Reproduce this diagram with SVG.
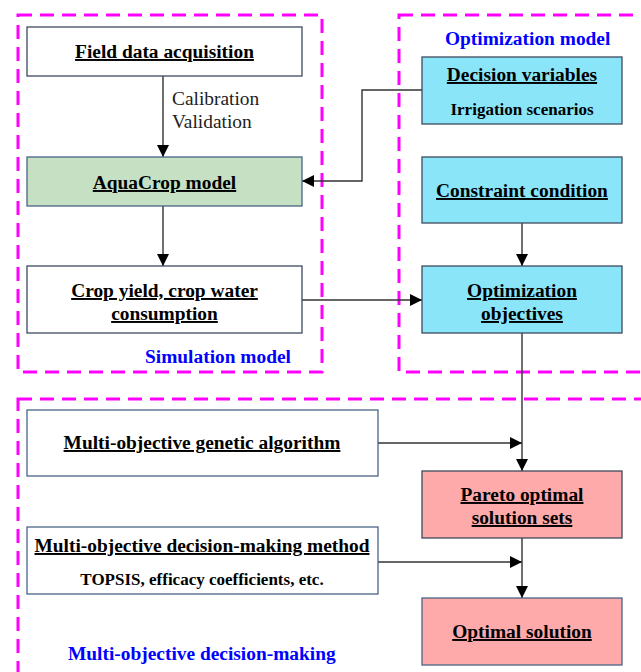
<svg xmlns="http://www.w3.org/2000/svg" width="641" height="672" viewBox="0 0 641 672" font-family="Liberation Serif">
<defs>
<marker id="ah" markerWidth="12" markerHeight="14" refX="12" refY="6" orient="auto" markerUnits="userSpaceOnUse">
<path d="M0,0 L12,6 L0,12 Z" fill="#000"/>
</marker>
<style>
.grp{fill:none;stroke:#ff00ff;stroke-width:3;stroke-dasharray:14 8}
.box{stroke:#3c4a5c;stroke-width:1.3}
.bb{stroke:#4a6585;stroke-width:1.3}
.w{fill:#fff}.g{fill:#c6e0c4}.c{fill:#8ae5f9}.p{fill:#ffaaaa}
.t{font-weight:bold;font-size:19.4px;fill:#000;text-anchor:middle;text-decoration:underline}
.s{font-weight:bold;font-size:17px;fill:#000;text-anchor:middle}
.lab{font-weight:bold;font-size:19.4px;fill:#0000ff}
.r{font-size:19.4px;fill:#222}
.ln{fill:none;stroke:#333;stroke-width:1.4}
</style>
</defs>
<rect width="641" height="672" fill="#fff"/>
<g id="groups">
<rect class="grp" x="18" y="15" width="304" height="357"/>
<rect class="grp" x="399" y="15" width="250" height="357"/>
<rect class="grp" x="18" y="399" width="640" height="290"/>
<text class="lab" x="145" y="363">Simulation model</text>
<text class="lab" x="445" y="45">Optimization model</text>
<text class="lab" x="68" y="660">Multi-objective decision-making</text>
</g>
<g id="connectors">
<line class="ln" x1="163" y1="76" x2="163" y2="157" marker-end="url(#ah)"/>
<text class="r" x="172" y="105">Calibration</text>
<text class="r" x="172" y="128">Validation</text>
<line class="ln" x1="163" y1="206" x2="163" y2="266" marker-end="url(#ah)"/>
<polyline class="ln" points="422,90 362,90 362,181 302,181" marker-end="url(#ah)"/>
<line class="ln" x1="522" y1="223" x2="522" y2="266" marker-end="url(#ah)"/>
<line class="ln" x1="302" y1="300" x2="422" y2="300" marker-end="url(#ah)"/>
<line class="ln" x1="522" y1="333" x2="522" y2="471" marker-end="url(#ah)"/>
<line class="ln" x1="378" y1="443" x2="522" y2="443" marker-end="url(#ah)"/>
<line class="ln" x1="378" y1="562" x2="522" y2="562" marker-end="url(#ah)"/>
<line class="ln" x1="522" y1="538" x2="522" y2="598" marker-end="url(#ah)"/>
</g>
<g id="field">
<rect class="box w" x="27" y="27" width="275" height="49"/>
<text class="t" x="164.5" y="58">Field data acquisition</text>
</g>
<g id="aquacrop">
<rect class="bb g" x="27" y="157" width="275" height="49"/>
<text class="t" x="164.5" y="189">AquaCrop model</text>
</g>
<g id="cropyield">
<rect class="box w" x="27" y="266" width="275" height="67"/>
<text class="t" x="164.5" y="297">Crop yield, crop water</text>
<text class="t" x="164.5" y="320">consumption</text>
</g>
<g id="decision">
<rect class="box c" x="422" y="57" width="200" height="67"/>
<text class="t" x="522" y="81">Decision variables</text>
<text class="s" x="522" y="115">Irrigation scenarios</text>
</g>
<g id="constraint">
<rect class="box c" x="422" y="157" width="200" height="66"/>
<text class="t" x="522" y="197">Constraint condition</text>
</g>
<g id="objectives">
<rect class="box c" x="422" y="266" width="200" height="67"/>
<text class="t" x="522" y="297">Optimization</text>
<text class="t" x="522" y="320">objectives</text>
</g>
<g id="moga">
<rect class="bb w" x="27" y="410" width="351" height="66"/>
<text class="t" x="202" y="449">Multi-objective genetic algorithm</text>
</g>
<g id="pareto">
<rect class="box p" x="422" y="471" width="200" height="67"/>
<text class="t" x="522" y="501">Pareto optimal</text>
<text class="t" x="522" y="524">solution sets</text>
</g>
<g id="modm">
<rect class="bb w" x="27" y="527" width="351" height="67"/>
<text class="t" x="202" y="552">Multi-objective decision-making method</text>
<text class="s" x="202" y="585">TOPSIS, efficacy coefficients, etc.</text>
</g>
<g id="optimal">
<rect class="bb p" x="422" y="598" width="200" height="67"/>
<text class="t" x="522" y="638">Optimal solution</text>
</g>
</svg>
